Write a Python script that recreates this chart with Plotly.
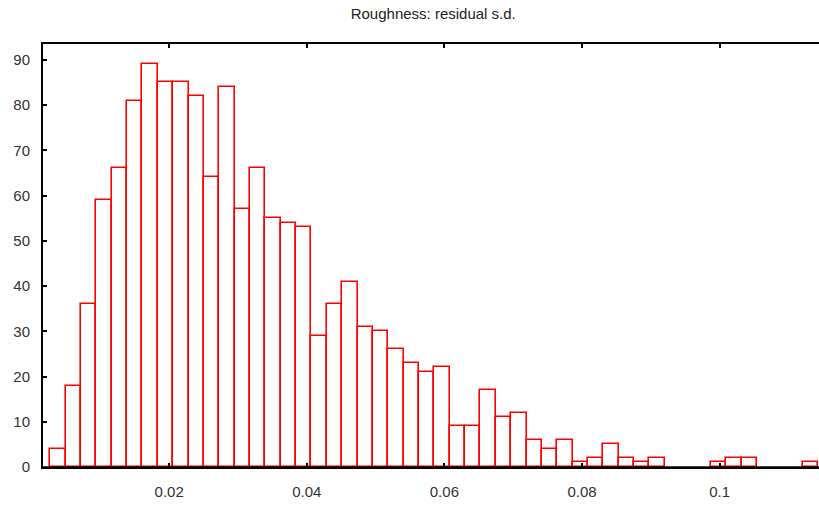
import plotly.graph_objects as go

# Histogram data
bin_start = 0.002723
bin_width = 0.002233
counts = [4, 18, 36, 59, 66, 81, 89, 85, 85, 82,
          64, 84, 57, 66, 55, 54, 53, 29, 36, 41,
          31, 30, 26, 23, 21, 22, 9, 9, 17, 11,
          12, 6, 4, 6, 1, 2, 5, 2, 1, 2,
          0, 0, 0, 1, 2, 2, 0, 0, 0, 1]
x_ticks = [0.02, 0.04, 0.06, 0.08, 0.1]
x_tick_labels = ["0.02", "0.04", "0.06", "0.08", "0.1"]
y_ticks = [0, 10, 20, 30, 40, 50, 60, 70, 80, 90]

centers = [bin_start + (i + 0.5) * bin_width for i in range(len(counts))]
bx = [c for c, n in zip(centers, counts) if n > 0]
by = [n for n in counts if n > 0]

fig = go.Figure(go.Bar(
    x=bx, y=by, width=bin_width,
    marker=dict(color="white", line=dict(color="#ff0000", width=1.6)),
    hoverinfo="x+y",
))

# black baseline drawn over the bars' bottom edges (as in the reference)
fig.add_shape(type="line", xref="x domain", x0=0, x1=1, yref="y", y0=0, y1=0,
              line=dict(color="black", width=1.6), layer="above")

fig.update_layout(
    width=819, height=506,
    margin=dict(l=43, r=0, t=44, b=39, autoexpand=False),
    paper_bgcolor="white", plot_bgcolor="white",
    showlegend=False,
    title=dict(text="Roughness: residual s.d.", x=0.529, xanchor="center",
               y=0.972, yanchor="middle",
               font=dict(family="Liberation Sans, Arial", size=15, color="#222")),
    font=dict(family="Liberation Sans, Arial", size=15, color="#333"),
    bargap=0,
)
fig.update_xaxes(
    range=[0.001663, 0.11445], tickvals=x_ticks, ticktext=x_tick_labels,
    showgrid=False, zeroline=False, showline=True, linecolor="black", linewidth=2,
    ticks="inside", ticklen=4, tickwidth=2, tickcolor="black", mirror="ticks",
    ticklabelstandoff=10, automargin=False,
)
fig.update_yaxes(
    range=[0, 93.5], tickvals=y_ticks,
    showgrid=False, zeroline=False, showline=True, linecolor="black", linewidth=2,
    ticks="inside", ticklen=4, tickwidth=2, tickcolor="black",
    ticklabelstandoff=8, automargin=False,
)

fig.write_html(
    "out.html",
    config={"displayModeBar": False},
    post_script="document.body.style.margin='0';document.body.style.overflow='hidden';",
)
